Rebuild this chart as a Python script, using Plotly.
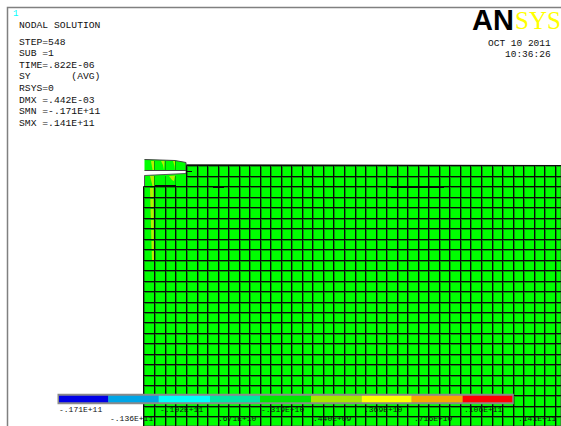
import plotly.graph_objects as go

# mesh node positions (image units)
mesh_x = [143.5,154.5,165.5,175.5,186.5,197.5,207.5,218.5,228.5,239.5,249.5,260.5,270.5,281.5,291.5,302.5,312.5,323.5,333.5,344.5,355.5,365.5,376.5,386.5,397.5,407.5,418.5,428.5,439.5,449.5,460.5,470.5,481.5,492.5,502.5,513.5,523.5,534.5,544.5,555.5]
mesh_y = [165.5,176.5,186.5,197.5,207.5,218.5,228.5,239.5,249.5,260.5,270.5,281.5,291.5,302.5,312.5,322.5,333.5,343.5,354.5,364.5,375.5,385.5,395.5,406.5,416.5]

body_x = [143.5,144.5,144.5,186,186.5,561,561,143.5,143.5,144.5,143.5]
body_y = [192,187,175.5,173.5,164.5,165.5,426,426,262,258,254]
block_x = [144.5,160,175,186,186,144.5]
block_y = [159.5,160,160.5,162.5,170.5,170.5]

yellow_sets = [
    ([150,153.5,154,152],[188,188,262,262]),
    ([151,154,154.5,152.5],[161,161,170,170]),
    ([161,164.5,164,163],[161,161,170,165]),
    ([173,175.5,175,174.5],[161,161,170,166]),
    ([150,154,155,152.5],[176,176,186,186]),
    ([169,175,174,172],[176,175.5,181,180]),
]

level_edges = [59,108.3,158.7,210,260,311,361.7,411.7,462.7,512.3]
level_colors = ["#0000e6","#00a5e6","#00ffff","#00e6a5","#00e600","#a5e600","#ffff00","#f5a800","#ff0000"]
level_labels = ["-.171E+11","-.136E+11","-.102E+11",".671E+10","-.319E+10",".440E+09",".369E+10",".716E+10",".106E+11",".141E+11"]
level_label_x = [57,108,158,216,259,311,362,412,462,516]
level_label_y = [409,418,409,418,409,418,409,418,409,418]

info_lines = ["NODAL SOLUTION","STEP=548","SUB =1","TIME=.822E-06","SY       (AVG)","RSYS=0","DMX =.442E-03","SMN =-.171E+11","SMX =.141E+11"]
info_y = [25,42,53,65,76,88,100,111,123]

GREEN = "#00ff00"
DARK = "#0a9a0a"
BLACK = "#0a0a0a"

fig = go.Figure()


def segs(pairs):
    xs, ys = [], []
    for (x0, y0, x1, y1) in pairs:
        xs += [x0, x1, None]
        ys += [y0, y1, None]
    return xs, ys


fig.add_trace(go.Scatter(x=body_x, y=body_y, mode="lines", fill="toself", fillcolor=GREEN,
                         line=dict(color="#555555", width=1)))
fig.add_trace(go.Scatter(x=block_x, y=block_y, mode="lines", fill="toself", fillcolor=GREEN,
                         line=dict(color="#444444", width=1)))
for yx, yy in yellow_sets:
    fig.add_trace(go.Scatter(x=yx, y=yy, mode="lines", fill="toself", fillcolor="#b4f000",
                             line=dict(width=0)))

v_pairs = []
for x in mesh_x:
    if x < 186:
        v_pairs.append((x, 186.5, x, 426))
    else:
        v_pairs.append((x, 165.5, x, 426))
h_pairs = []
for y in mesh_y:
    if y < 186:
        h_pairs.append((186.5, y, 561, y))
    else:
        h_pairs.append((143.5, y, 561, y))

dx, dy = segs([(a + 1, b, c + 1, d) for a, b, c, d in v_pairs] + [(a, b + 1, c, d + 1) for a, b, c, d in h_pairs])
fig.add_trace(go.Scatter(x=dx, y=dy, mode="lines", line=dict(color=DARK, width=1)))
kx, ky = segs([(154.5, 176, 154.5, 186), (165.5, 176, 165.5, 186), (175.5, 176, 175.5, 186),
               (154.5, 161, 154.5, 170), (165.5, 161, 165.5, 170), (175.5, 161, 175.5, 170)])
fig.add_trace(go.Scatter(x=kx, y=ky, mode="lines", line=dict(color=DARK, width=1)))
bx, by = segs(v_pairs + h_pairs + [(155, 185.5, 176, 185.5), (186, 171.5, 192, 171.5), (213, 187.5, 224, 187.5), (391, 187.5, 444, 187.5)])
fig.add_trace(go.Scatter(x=bx, y=by, mode="lines", line=dict(color=BLACK, width=1)))

# frame
fig.add_trace(go.Scatter(x=[561, 7.5, 7.5], y=[7.5, 7.5, 426], mode="lines", line=dict(color="#808080", width=1.5)))

# contour legend
fig.add_trace(go.Scatter(x=[level_edges[0] - 1.5, level_edges[-1] + 1.5], y=[399, 399], mode="lines",
                         line=dict(color="#8a8a8a", width=10.5)))
for i, c in enumerate(level_colors):
    fig.add_trace(go.Scatter(x=[level_edges[i], level_edges[i + 1]], y=[399, 399], mode="lines",
                             line=dict(color=c, width=6.5)))

FONT = "Liberation Mono"
for t, y in zip(info_lines, info_y):
    fig.add_annotation(x=17, y=y, text=t, xanchor="left", yanchor="middle", showarrow=False,
                       font=dict(family=FONT, size=9.7, color="#111111"))
fig.add_annotation(x=11, y=14, text="1", xanchor="left", yanchor="middle", showarrow=False,
                   font=dict(family=FONT, size=9, color="#00ffff"))
fig.add_annotation(x=553, y=43, text="OCT 10 2011", xanchor="right", yanchor="middle", showarrow=False,
                   font=dict(family=FONT, size=9.5, color="#111111"))
fig.add_annotation(x=553, y=54, text="10:36:26", xanchor="right", yanchor="middle", showarrow=False,
                   font=dict(family=FONT, size=9.5, color="#111111"))
fig.add_annotation(x=470, y=20, text="<b>AN</b>", xanchor="left", yanchor="middle", showarrow=False,
                   font=dict(family="Liberation Sans", size=29, color="#000000"))
fig.add_annotation(x=513, y=20, text="SYS", xanchor="left", yanchor="middle", showarrow=False,
                   font=dict(family="Liberation Serif", size=25, color="#ffff00"))
for t, x, y in zip(level_labels, level_label_x, level_label_y):
    fig.add_annotation(x=x, y=y, text=t, xanchor="left", yanchor="middle", showarrow=False,
                       font=dict(family=FONT, size=8, color="#111111"))

fig.update_layout(
    width=561, height=426, margin=dict(l=0, r=0, t=0, b=0), showlegend=False,
    paper_bgcolor="white", plot_bgcolor="white", hovermode=False,
    xaxis=dict(range=[0, 561], visible=False, fixedrange=True),
    yaxis=dict(range=[426, 0], visible=False, fixedrange=True),
)
fig.write_html("out.html", config=dict(displayModeBar=False),
               post_script="document.body.style.margin='0';document.body.style.overflow='hidden';")
